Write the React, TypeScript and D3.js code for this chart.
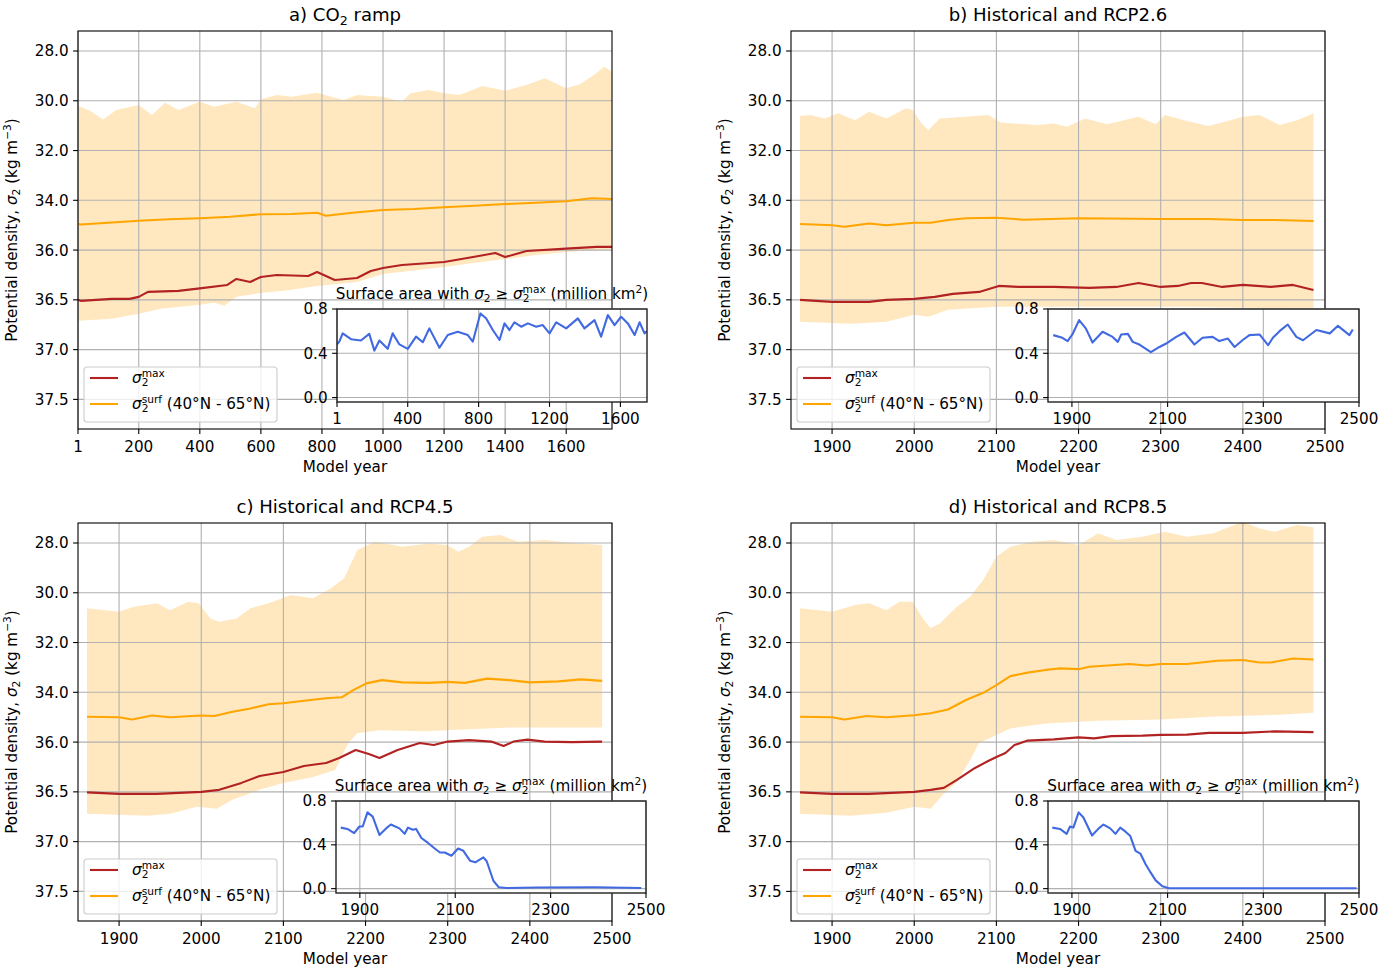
import React from 'react';
import * as d3 from 'd3';

type Pt = [number, number];

const FONT = 'DejaVu Sans, sans-serif';
const FS = 15.2;
const TITLE_FS = 18.1;

const MAIN_Y_TICKS = [28, 30, 32, 34, 36, 36.5, 37, 37.5];
const INSET_Y_TICKS = [0, 0.4, 0.8];
const RAMP_X_TICKS = [1, 200, 400, 600, 800, 1000, 1200, 1400, 1600];
const RAMP_INSET_X_TICKS = [1, 400, 800, 1200, 1600];
const RCP_X_TICKS = [1900, 2000, 2100, 2200, 2300, 2400, 2500];
const RCP_INSET_X_TICKS = [1900, 2100, 2300, 2500];

// a) CO2 ramp
const aSurf: Pt[] = [[1, 34.95], [10, 34.97], [100, 34.9], [200, 34.82], [300, 34.76], [400, 34.72], [500, 34.66], [600, 34.56], [700, 34.55], [784, 34.5], [813, 34.62], [900, 34.5], [1000, 34.39], [1100, 34.35], [1200, 34.28], [1300, 34.22], [1400, 34.15], [1500, 34.1], [1600, 34.04], [1683, 33.92], [1750, 33.95]];
const aMax: Pt[] = [[1, 36.5], [10, 36.51], [112, 36.49], [170, 36.49], [200, 36.47], [230, 36.42], [330, 36.41], [400, 36.385], [490, 36.35], [520, 36.29], [565, 36.32], [600, 36.27], [652, 36.25], [755, 36.26], [784, 36.22], [842, 36.3], [915, 36.28], [960, 36.21], [1000, 36.18], [1062, 36.15], [1200, 36.12], [1295, 36.07], [1368, 36.03], [1400, 36.07], [1470, 36.01], [1600, 35.94], [1700, 35.87], [1750, 35.87]];
const aBandTop: Pt[] = [[1, 30.21], [40, 30.4], [83, 30.75], [126, 30.37], [200, 30.17], [243, 30.57], [286, 30.08], [330, 30.37], [400, 30.04], [447, 30.24], [520, 30.04], [580, 30.3], [600, 29.94], [652, 29.77], [700, 29.84], [784, 29.68], [870, 29.97], [915, 29.77], [1000, 29.84], [1062, 30.04], [1090, 29.7], [1150, 29.57], [1200, 29.7], [1250, 29.77], [1325, 29.41], [1400, 29.6], [1470, 29.37], [1530, 29.1], [1600, 29.5], [1645, 29.34], [1690, 28.96], [1725, 28.63], [1750, 28.83]];
const aBandBottom: Pt[] = [[1, 36.71], [112, 36.69], [200, 36.64], [272, 36.59], [400, 36.55], [447, 36.53], [480, 36.56], [520, 36.47], [600, 36.43], [695, 36.4], [784, 36.36], [915, 36.32], [1000, 36.24], [1200, 36.17], [1295, 36.13], [1400, 36.09], [1500, 36.05], [1600, 36.02], [1750, 35.97]];
const aArea: Pt[] = [[1, 0.48], [14, 0.505], [33, 0.58], [80, 0.527], [136, 0.515], [183, 0.575], [212, 0.424], [240, 0.515], [287, 0.44], [315, 0.58], [353, 0.48], [400, 0.44], [447, 0.55], [485, 0.5], [522, 0.625], [579, 0.45], [626, 0.565], [682, 0.595], [739, 0.565], [767, 0.505], [810, 0.76], [842, 0.716], [880, 0.61], [918, 0.52], [946, 0.67], [974, 0.61], [1002, 0.68], [1040, 0.64], [1078, 0.67], [1125, 0.64], [1162, 0.655], [1200, 0.58], [1238, 0.68], [1294, 0.625], [1360, 0.715], [1397, 0.625], [1454, 0.7], [1491, 0.55], [1529, 0.745], [1567, 0.655], [1604, 0.73], [1642, 0.67], [1680, 0.565], [1708, 0.68], [1736, 0.58], [1750, 0.6]];

// b) Historical and RCP2.6
const bSurf: Pt[] = [[1861, 34.95], [1900, 35.0], [1915, 35.06], [1945, 34.93], [1966, 35.0], [2000, 34.9], [2020, 34.9], [2041, 34.79], [2063, 34.72], [2100, 34.7], [2133, 34.78], [2200, 34.72], [2300, 34.75], [2358, 34.75], [2400, 34.79], [2439, 34.79], [2486, 34.83]];
const bMax: Pt[] = [[1861, 36.5], [1900, 36.52], [1945, 36.52], [1966, 36.5], [2000, 36.49], [2025, 36.47], [2047, 36.44], [2079, 36.42], [2103, 36.36], [2127, 36.37], [2170, 36.37], [2213, 36.38], [2246, 36.37], [2273, 36.33], [2300, 36.37], [2321, 36.36], [2337, 36.33], [2350, 36.33], [2375, 36.37], [2400, 36.35], [2434, 36.37], [2461, 36.35], [2486, 36.4]];
const bBandTop: Pt[] = [[1861, 30.61], [1874, 30.57], [1891, 30.71], [1907, 30.5], [1928, 30.78], [1945, 30.44], [1966, 30.71], [1990, 30.3], [1998, 30.37], [2009, 30.91], [2017, 31.18], [2031, 30.71], [2063, 30.64], [2090, 30.57], [2106, 30.88], [2149, 30.97], [2170, 30.91], [2186, 31.04], [2208, 30.71], [2235, 30.94], [2273, 30.64], [2294, 30.94], [2305, 30.57], [2332, 30.81], [2358, 31.01], [2385, 30.78], [2400, 30.64], [2420, 30.57], [2445, 30.97], [2466, 30.78], [2486, 30.5]];
const bBandBottom: Pt[] = [[1861, 36.72], [1923, 36.74], [1966, 36.72], [2000, 36.65], [2017, 36.67], [2041, 36.6], [2100, 36.57], [2170, 36.57], [2332, 36.57], [2486, 36.59]];
const bArea: Pt[] = [[1861, 0.564], [1880, 0.54], [1891, 0.51], [1901, 0.57], [1915, 0.7], [1929, 0.625], [1943, 0.497], [1964, 0.594], [1985, 0.548], [1996, 0.503], [2003, 0.57], [2017, 0.575], [2027, 0.503], [2041, 0.479], [2065, 0.41], [2083, 0.457], [2097, 0.488], [2118, 0.548], [2135, 0.588], [2156, 0.479], [2173, 0.54], [2194, 0.548], [2208, 0.51], [2226, 0.533], [2240, 0.457], [2257, 0.52], [2271, 0.564], [2292, 0.57], [2310, 0.473], [2320, 0.54], [2334, 0.6], [2351, 0.66], [2369, 0.548], [2383, 0.518], [2411, 0.61], [2439, 0.58], [2456, 0.648], [2480, 0.564], [2487, 0.615]];

// c) Historical and RCP4.5
const cSurf: Pt[] = [[1861, 34.98], [1900, 35.0], [1916, 35.09], [1940, 34.93], [1962, 35.0], [2000, 34.93], [2016, 34.95], [2038, 34.78], [2060, 34.65], [2082, 34.48], [2100, 34.44], [2125, 34.34], [2152, 34.24], [2171, 34.2], [2185, 33.91], [2201, 33.64], [2220, 33.51], [2245, 33.6], [2277, 33.62], [2300, 33.58], [2321, 33.62], [2348, 33.45], [2375, 33.51], [2400, 33.6], [2435, 33.56], [2462, 33.48], [2488, 33.54]];
const cMax: Pt[] = [[1861, 36.505], [1900, 36.52], [1946, 36.52], [2000, 36.5], [2022, 36.48], [2049, 36.41], [2071, 36.34], [2100, 36.3], [2125, 36.24], [2152, 36.21], [2168, 36.16], [2188, 36.08], [2204, 36.12], [2217, 36.16], [2239, 36.08], [2266, 36.01], [2283, 36.03], [2300, 35.98], [2326, 35.92], [2353, 35.98], [2368, 36.04], [2380, 35.98], [2397, 35.9], [2418, 35.98], [2451, 36.0], [2488, 35.98]];
const cBandTop: Pt[] = [[1861, 30.62], [1900, 30.76], [1918, 30.56], [1946, 30.42], [1962, 30.7], [1984, 30.36], [1997, 30.42], [2011, 31.03], [2022, 31.16], [2043, 31.03], [2060, 30.62], [2082, 30.42], [2109, 30.09], [2136, 30.22], [2158, 29.82], [2174, 29.42], [2190, 28.28], [2212, 27.95], [2245, 28.15], [2277, 28.02], [2299, 28.08], [2313, 28.35], [2326, 28.15], [2342, 27.75], [2364, 27.68], [2386, 27.95], [2418, 27.88], [2451, 28.0], [2488, 28.08]];
const cBandBottom: Pt[] = [[1861, 36.72], [1935, 36.74], [1962, 36.72], [1995, 36.65], [2019, 36.67], [2038, 36.58], [2071, 36.48], [2100, 36.41], [2136, 36.35], [2163, 36.28], [2179, 36.01], [2190, 35.65], [2217, 35.52], [2272, 35.56], [2326, 35.48], [2380, 35.41], [2435, 35.41], [2488, 35.41]];
const cArea: Pt[] = [[1860, 0.557], [1874, 0.545], [1888, 0.507], [1899, 0.567], [1906, 0.567], [1916, 0.696], [1927, 0.657], [1941, 0.49], [1955, 0.55], [1965, 0.585], [1983, 0.55], [1994, 0.5], [2001, 0.557], [2011, 0.537], [2018, 0.545], [2029, 0.462], [2043, 0.417], [2057, 0.366], [2068, 0.33], [2078, 0.33], [2092, 0.3], [2106, 0.366], [2117, 0.345], [2131, 0.255], [2142, 0.24], [2159, 0.285], [2166, 0.25], [2180, 0.072], [2191, 0.013], [2208, 0.005], [2272, 0.01], [2392, 0.012], [2490, 0.005]];

// d) Historical and RCP8.5
const dSurf: Pt[] = [[1861, 34.98], [1900, 35.0], [1915, 35.09], [1942, 34.95], [1966, 35.0], [2000, 34.92], [2020, 34.84], [2041, 34.69], [2063, 34.31], [2084, 34.02], [2100, 33.71], [2117, 33.35], [2138, 33.21], [2160, 33.1], [2176, 33.04], [2200, 33.07], [2213, 32.97], [2235, 32.92], [2262, 32.86], [2283, 32.92], [2300, 32.86], [2332, 32.86], [2369, 32.73], [2400, 32.7], [2420, 32.8], [2434, 32.8], [2461, 32.64], [2486, 32.68]];
const dMax: Pt[] = [[1861, 36.505], [1900, 36.52], [1945, 36.52], [2000, 36.5], [2020, 36.48], [2036, 36.46], [2052, 36.38], [2074, 36.26], [2090, 36.19], [2100, 36.15], [2111, 36.11], [2122, 36.03], [2138, 35.94], [2170, 35.89], [2200, 35.81], [2219, 35.85], [2240, 35.76], [2278, 35.74], [2300, 35.71], [2332, 35.7], [2359, 35.63], [2400, 35.63], [2439, 35.57], [2486, 35.6]];
const dBandTop: Pt[] = [[1861, 30.62], [1900, 30.76], [1928, 30.49], [1945, 30.42], [1966, 30.7], [1982, 30.36], [1998, 30.36], [2009, 30.96], [2020, 31.43], [2031, 31.23], [2052, 30.56], [2068, 30.16], [2084, 29.49], [2100, 28.55], [2117, 28.15], [2144, 27.95], [2170, 27.88], [2200, 28.08], [2224, 27.61], [2246, 27.88], [2278, 27.75], [2305, 27.55], [2332, 27.75], [2364, 27.61], [2385, 27.34], [2400, 27.15], [2420, 27.41], [2439, 27.55], [2466, 27.28], [2486, 27.37]];
const dBandBottom: Pt[] = [[1861, 36.72], [1923, 36.74], [1966, 36.71], [2000, 36.65], [2020, 36.67], [2036, 36.52], [2052, 36.4], [2068, 36.18], [2079, 36.01], [2100, 35.72], [2117, 35.45], [2160, 35.25], [2224, 35.14], [2300, 35.09], [2359, 34.98], [2439, 34.91], [2486, 34.82]];
const dArea: Pt[] = [[1859, 0.557], [1875, 0.545], [1889, 0.5], [1896, 0.567], [1903, 0.557], [1914, 0.696], [1924, 0.65], [1942, 0.485], [1956, 0.55], [1966, 0.585], [1980, 0.55], [1991, 0.5], [2001, 0.557], [2012, 0.52], [2022, 0.48], [2033, 0.345], [2043, 0.32], [2054, 0.222], [2064, 0.15], [2075, 0.075], [2089, 0.021], [2103, 0.003], [2495, 0.003]];

interface PanelCfg {
  id: string;
  title: React.ReactNode;
  x0: number; y0: number; w: number; h: number;
  xDomain: [number, number];
  xTicks: number[];
  surf: Pt[]; max: Pt[]; top: Pt[]; bottom: Pt[];
  area: Pt[];
  inset: { x: number; y: number; w: number; h: number; ticks: number[]; title: boolean };
}

const sub = (fs: number) => fs * 0.7;

// sigma_2 with optional superscript, followed by plain text
const Sigma2 = ({ fs, sup, rest }: { fs: number; sup?: string; rest: string }) => {
  const s = sub(fs);
  const w2 = 0.636 * s;
  const dn = fs * 0.22;
  const up = fs * 0.42;
  return (
    <>
      <tspan fontStyle="italic">σ</tspan>
      <tspan fontSize={s} dy={dn}>2</tspan>
      {sup ? <tspan fontSize={s} dx={-w2} dy={-dn - up}>{sup}</tspan> : null}
      <tspan dy={sup ? up : -dn}>{rest}</tspan>
    </>
  );
};

const Panel = ({ cfg }: { cfg: PanelCfg }) => {
  const { x0, y0, w, h } = cfg;
  const xs = d3.scaleLinear().domain(cfg.xDomain).range([x0, x0 + w]);
  const y28 = y0 + 20;
  const step = 49.77;
  const ys = d3.scaleLinear().domain([28, 36, 37.5]).range([y28, y28 + 4 * step, y28 + 7 * step]);
  const line = d3.line<Pt>().x(d => xs(d[0])).y(d => ys(d[1]));
  const band = line(cfg.top.concat([...cfg.bottom].reverse())) + 'Z';

  const ins = cfg.inset;
  const ixs = d3.scaleLinear().domain(cfg.xDomain).range([ins.x, ins.x + ins.w]);
  const iys = d3.scaleLinear().domain([-0.04, 0.8]).range([ins.y + ins.h, ins.y]);
  const iline = d3.line<Pt>().x(d => ixs(d[0])).y(d => iys(d[1]));

  const tick = 4.9;
  const grid = '#b0b0b0';
  const bottom = y0 + h;
  const legX = x0 + 6;
  const legY = bottom - 62;
  const supUp = FS * 0.42;

  return (
    <g fontFamily={FONT} fontSize={FS}>
      <defs>
        <clipPath id={`clip-${cfg.id}`}><rect x={x0} y={y0} width={w} height={h} /></clipPath>
        <clipPath id={`iclip-${cfg.id}`}><rect x={ins.x} y={ins.y} width={ins.w} height={ins.h} /></clipPath>
      </defs>
      <rect x={x0} y={y0} width={w} height={h} fill="white" />
      <path d={band} fill="#ffa500" fillOpacity={0.25} clipPath={`url(#clip-${cfg.id})`} />
      {cfg.xTicks.map(t => (
        <line key={'gx' + t} x1={xs(t)} x2={xs(t)} y1={y0} y2={bottom} stroke={grid} strokeWidth={1.1} />
      ))}
      {MAIN_Y_TICKS.map(t => (
        <line key={'gy' + t} x1={x0} x2={x0 + w} y1={ys(t)} y2={ys(t)} stroke={grid} strokeWidth={1.1} />
      ))}
      <g clipPath={`url(#clip-${cfg.id})`} fill="none" strokeWidth={2.1} strokeLinejoin="round">
        <path d={line(cfg.max) || ''} stroke="#b22222" />
        <path d={line(cfg.surf) || ''} stroke="#ffa500" />
      </g>
      <rect x={x0} y={y0} width={w} height={h} fill="none" stroke="black" strokeWidth={1.1} />
      {cfg.xTicks.map(t => (
        <g key={'tx' + t}>
          <line x1={xs(t)} x2={xs(t)} y1={bottom} y2={bottom + tick} stroke="black" strokeWidth={1.1} />
          <text x={xs(t)} y={bottom + 22.5} textAnchor="middle">{t}</text>
        </g>
      ))}
      {MAIN_Y_TICKS.map(t => (
        <g key={'ty' + t}>
          <line x1={x0 - tick} x2={x0} y1={ys(t)} y2={ys(t)} stroke="black" strokeWidth={1.1} />
          <text x={x0 - tick - 4.5} y={ys(t)} dy="0.36em" textAnchor="end">{t.toFixed(1)}</text>
        </g>
      ))}
      <text x={x0 + w / 2} y={bottom + 42.5} textAnchor="middle">Model year</text>
      <text transform={`translate(${x0 - 61},${y0 + h / 2}) rotate(-90)`} textAnchor="middle">
        Potential density, <Sigma2 fs={FS} rest=" (kg m" /><tspan fontSize={sub(FS)} dy={-supUp}>−3</tspan><tspan dy={supUp}>)</tspan>
      </text>
      <text x={x0 + w / 2} y={y0 - 10} textAnchor="middle" fontSize={TITLE_FS}>{cfg.title}</text>

      {/* legend */}
      <rect x={legX} y={legY} width={193} height={55} rx={3} fill="white" fillOpacity={0.8} stroke="#cccccc" strokeWidth={1.1} />
      <line x1={legX + 6} x2={legX + 34} y1={legY + 11} y2={legY + 11} stroke="#b22222" strokeWidth={2.1} />
      <line x1={legX + 6} x2={legX + 34} y1={legY + 37} y2={legY + 37} stroke="#ffa500" strokeWidth={2.1} />
      <text x={legX + 48} y={legY + 16}><Sigma2 fs={FS} sup="max" rest="" /></text>
      <text x={legX + 48} y={legY + 42}><Sigma2 fs={FS} sup="surf" rest=" (40°N - 65°N)" /></text>

      {/* inset */}
      <rect x={ins.x} y={ins.y} width={ins.w} height={ins.h} fill="white" />
      {ins.ticks.map(t => (
        <line key={'igx' + t} x1={ixs(t)} x2={ixs(t)} y1={ins.y} y2={ins.y + ins.h} stroke={grid} strokeWidth={1.1} />
      ))}
      {INSET_Y_TICKS.map(t => (
        <line key={'igy' + t} x1={ins.x} x2={ins.x + ins.w} y1={iys(t)} y2={iys(t)} stroke={grid} strokeWidth={1.1} />
      ))}
      <path d={iline(cfg.area) || ''} fill="none" stroke="#4169e1" strokeWidth={2.1} strokeLinejoin="round" clipPath={`url(#iclip-${cfg.id})`} />
      <rect x={ins.x} y={ins.y} width={ins.w} height={ins.h} fill="none" stroke="#222" strokeWidth={1.4} />
      {ins.ticks.map(t => (
        <g key={'itx' + t}>
          <line x1={ixs(t)} x2={ixs(t)} y1={ins.y + ins.h} y2={ins.y + ins.h + tick} stroke="black" strokeWidth={1.1} />
          <text x={ixs(t)} y={ins.y + ins.h + 22} textAnchor="middle">{t}</text>
        </g>
      ))}
      {INSET_Y_TICKS.map(t => (
        <g key={'ity' + t}>
          <line x1={ins.x - tick} x2={ins.x} y1={iys(t)} y2={iys(t)} stroke="black" strokeWidth={1.1} />
          <text x={ins.x - tick - 4.5} y={iys(t)} dy="0.36em" textAnchor="end">{t.toFixed(1)}</text>
        </g>
      ))}
      {ins.title ? (
        <text x={ins.x + ins.w / 2} y={ins.y - 10} textAnchor="middle">
          Surface area with <Sigma2 fs={FS} rest=" ≥ " /><Sigma2 fs={FS} sup="max" rest=" (million km" /><tspan fontSize={sub(FS)} dy={-supUp}>2</tspan><tspan dy={supUp}>)</tspan>
        </text>
      ) : null}
    </g>
  );
};

const panels: PanelCfg[] = [
  {
    id: 'a', title: <>a) CO<tspan fontSize={sub(TITLE_FS)} dy={4}>2</tspan><tspan dy={-4}> ramp</tspan></>,
    x0: 78, y0: 31, w: 534, h: 398, xDomain: [1, 1750], xTicks: RAMP_X_TICKS,
    surf: aSurf, max: aMax, top: aBandTop, bottom: aBandBottom, area: aArea,
    inset: { x: 337, y: 309, w: 310, h: 93, ticks: RAMP_INSET_X_TICKS, title: true },
  },
  {
    id: 'b', title: 'b) Historical and RCP2.6',
    x0: 791, y0: 31, w: 534, h: 398, xDomain: [1850, 2500], xTicks: RCP_X_TICKS,
    surf: bSurf, max: bMax, top: bBandTop, bottom: bBandBottom, area: bArea,
    inset: { x: 1048, y: 309, w: 311, h: 93, ticks: RCP_INSET_X_TICKS, title: false },
  },
  {
    id: 'c', title: 'c) Historical and RCP4.5',
    x0: 78, y0: 523, w: 534, h: 398, xDomain: [1850, 2500], xTicks: RCP_X_TICKS,
    surf: cSurf, max: cMax, top: cBandTop, bottom: cBandBottom, area: cArea,
    inset: { x: 336, y: 801, w: 310, h: 92, ticks: RCP_INSET_X_TICKS, title: true },
  },
  {
    id: 'd', title: 'd) Historical and RCP8.5',
    x0: 791, y0: 523, w: 534, h: 398, xDomain: [1850, 2500], xTicks: RCP_X_TICKS,
    surf: dSurf, max: dMax, top: dBandTop, bottom: dBandBottom, area: dArea,
    inset: { x: 1048, y: 801, w: 311, h: 92, ticks: RCP_INSET_X_TICKS, title: true },
  },
];

export default function App() {
  return (
    <svg width={1393} height={972} style={{ position: 'absolute', left: 0, top: 0, background: 'white' }}>
      <rect width={1393} height={972} fill="white" />
      {panels.map(p => <Panel key={p.id} cfg={p} />)}
    </svg>
  );
}
